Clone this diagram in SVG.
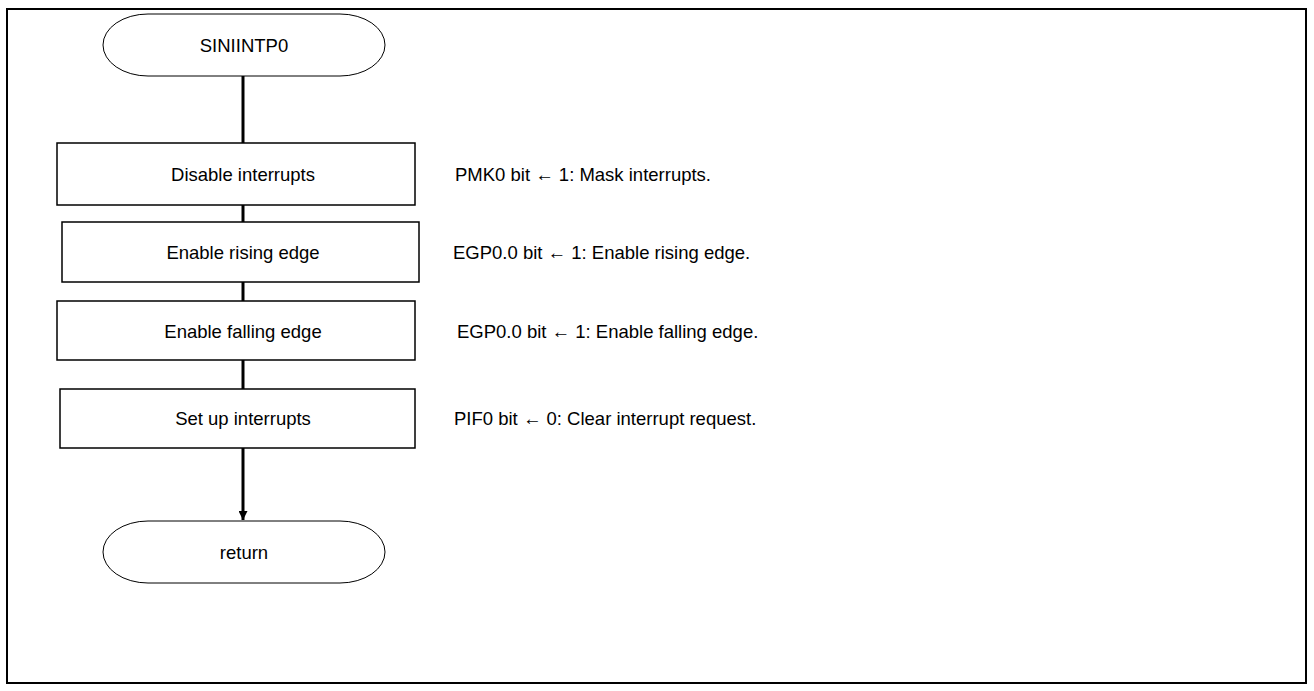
<svg xmlns="http://www.w3.org/2000/svg" width="1314" height="691" viewBox="0 0 1314 691">
  <style>
    .frame { fill: none; stroke: #000; stroke-width: 2; }
    .term { fill: #fff; stroke: #000; stroke-width: 1; }
    .proc { fill: #fff; stroke: #000; stroke-width: 1.5; }
    .flow { fill: none; stroke: #000; stroke-width: 3; }
    .label { font-family: "Liberation Sans", Arial, sans-serif; font-size: 18.5px; fill: #000; }
    .c { text-anchor: middle; dominant-baseline: central; }
    .note { dominant-baseline: central; }
  </style>
  <defs>
    <marker id="arrow" viewBox="0 0 10 10" refX="10" refY="5" markerWidth="3" markerHeight="3" orient="auto" markerUnits="strokeWidth">
      <path d="M0,0 L10,5 L0,10 Z" fill="#000"/>
    </marker>
  </defs>

  <rect class="frame" x="7" y="9" width="1299" height="674"/>

  <!-- connectors -->
  <g id="connectors">
    <line class="flow" x1="243" y1="76" x2="243" y2="143"/>
    <line class="flow" x1="243" y1="205" x2="243" y2="222"/>
    <line class="flow" x1="243" y1="282" x2="243" y2="301"/>
    <line class="flow" x1="243" y1="360" x2="243" y2="389"/>
    <line class="flow" x1="243" y1="448" x2="243" y2="520" marker-end="url(#arrow)"/>
  </g>

  <g id="start">
    <path class="term" d="M148,14 H340 A45,31 0 0 1 340,76 H148 A45,31 0 0 1 148,14 Z"/>
    <text class="label c" x="244" y="45">SINIINTP0</text>
  </g>

  <g id="disable-interrupts">
    <rect class="proc" x="57" y="143" width="358" height="62"/>
    <text class="label c" x="243" y="174">Disable interrupts</text>
  </g>

  <g id="enable-rising">
    <rect class="proc" x="62" y="222" width="357" height="60"/>
    <text class="label c" x="243" y="252">Enable rising edge</text>
  </g>

  <g id="enable-falling">
    <rect class="proc" x="57" y="301" width="358" height="59"/>
    <text class="label c" x="243" y="331">Enable falling edge</text>
  </g>

  <g id="setup-interrupts">
    <rect class="proc" x="60" y="389" width="355" height="59"/>
    <text class="label c" x="243" y="418">Set up interrupts</text>
  </g>

  <g id="return">
    <path class="term" d="M148,521 H340 A45,31 0 0 1 340,583 H148 A45,31 0 0 1 148,521 Z"/>
    <text class="label c" x="244" y="552">return</text>
  </g>

  <g id="notes">
    <text class="label note" x="455" y="174">PMK0 bit ← 1: Mask interrupts.</text>
    <text class="label note" x="453" y="252">EGP0.0 bit ← 1: Enable rising edge.</text>
    <text class="label note" x="457" y="331">EGP0.0 bit ← 1: Enable falling edge.</text>
    <text class="label note" x="454" y="418">PIF0 bit ← 0: Clear interrupt request.</text>
  </g>
</svg>
